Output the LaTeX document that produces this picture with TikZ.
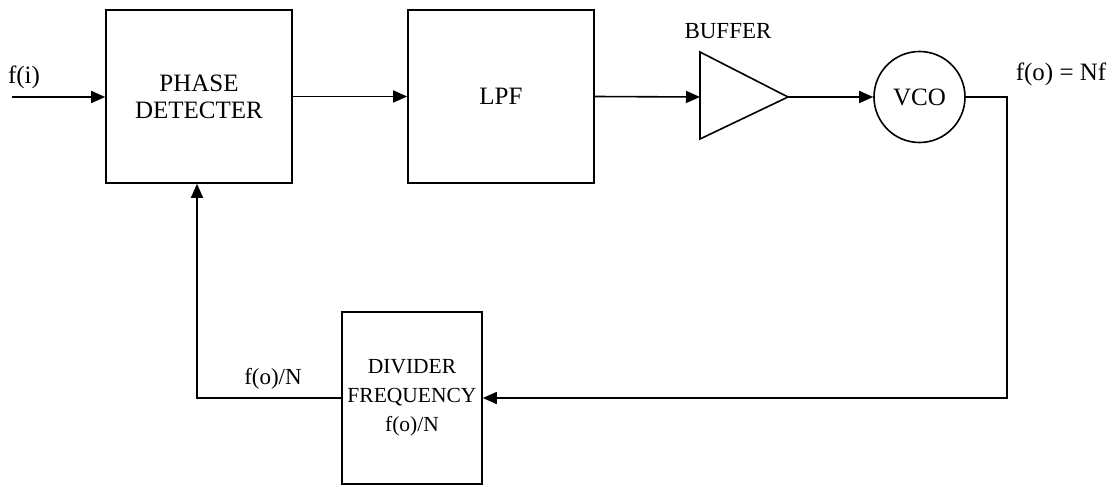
\documentclass[tikz,border=0pt]{standalone}
\usepackage{fontspec}
\setmainfont{Liberation Serif}
\usetikzlibrary{arrows.meta}
\begin{document}
\begin{tikzpicture}[x=1pt,y=-1pt,
  every node/.style={font=\fontsize{25}{27}\selectfont},
  blockbox/.style={draw, line width=1.6pt, inner sep=0pt, align=center},
  conn/.style={line width=1.6pt},
  arr/.style={conn, -{Triangle[length=14pt,width=12pt]}},
  lbl/.style={inner sep=0pt}]
\path[use as bounding box, fill=white] (0,0) rectangle (1119,487);

% blocks
\node[blockbox, minimum width=186pt, minimum height=173pt] (pd) at (199,96.5) {PHASE\\DETECTER};
\node[blockbox, minimum width=186pt, minimum height=173pt] (lpf) at (501,96.5) {LPF};
\node[blockbox, circle, minimum size=91pt] (vco) at (919.5,97) {VCO};
\node[blockbox, minimum width=140pt, minimum height=172pt, font=\fontsize{21.5}{29}\selectfont] (div) at (412,398) {DIVIDER\\FREQUENCY\\f(o)/N};

% buffer triangle
\coordinate (bufin) at (700,97);
\coordinate (bufout) at (788,97);
\draw[line width=1.6pt, line join=miter] (700,52) -- (788,97) -- (700,139) -- cycle;

% labels
\node[lbl] (fi) at (24,77) {f(i)};
\node[lbl, font=\fontsize{23}{27}\selectfont] (buflbl) at (728,31) {BUFFER};
\node[lbl] (folbl) at (1061,74) {f(o) = Nf};
\node[lbl, font=\fontsize{23}{27}\selectfont] (fnlbl) at (273,379) {f(o)/N};

% connector points
\coordinate (in) at (12,97);
\coordinate (c1) at (1007,97);
\coordinate (c2) at (1007,398);
\coordinate (c3) at (197,398);

% connectors
\draw[arr] (in) -- (in -| pd.west);
\draw[arr] (pd.east) -- (lpf.west);
\draw[arr] (lpf.east) -- (bufin);
\draw[arr] (bufout) -- (vco.west);
\draw[arr] (vco.east) -- (c1) -- (c2) -- (div.east);
\draw[arr] (div.west) -- (c3) -- (c3 |- pd.south);
\end{tikzpicture}
\end{document}
